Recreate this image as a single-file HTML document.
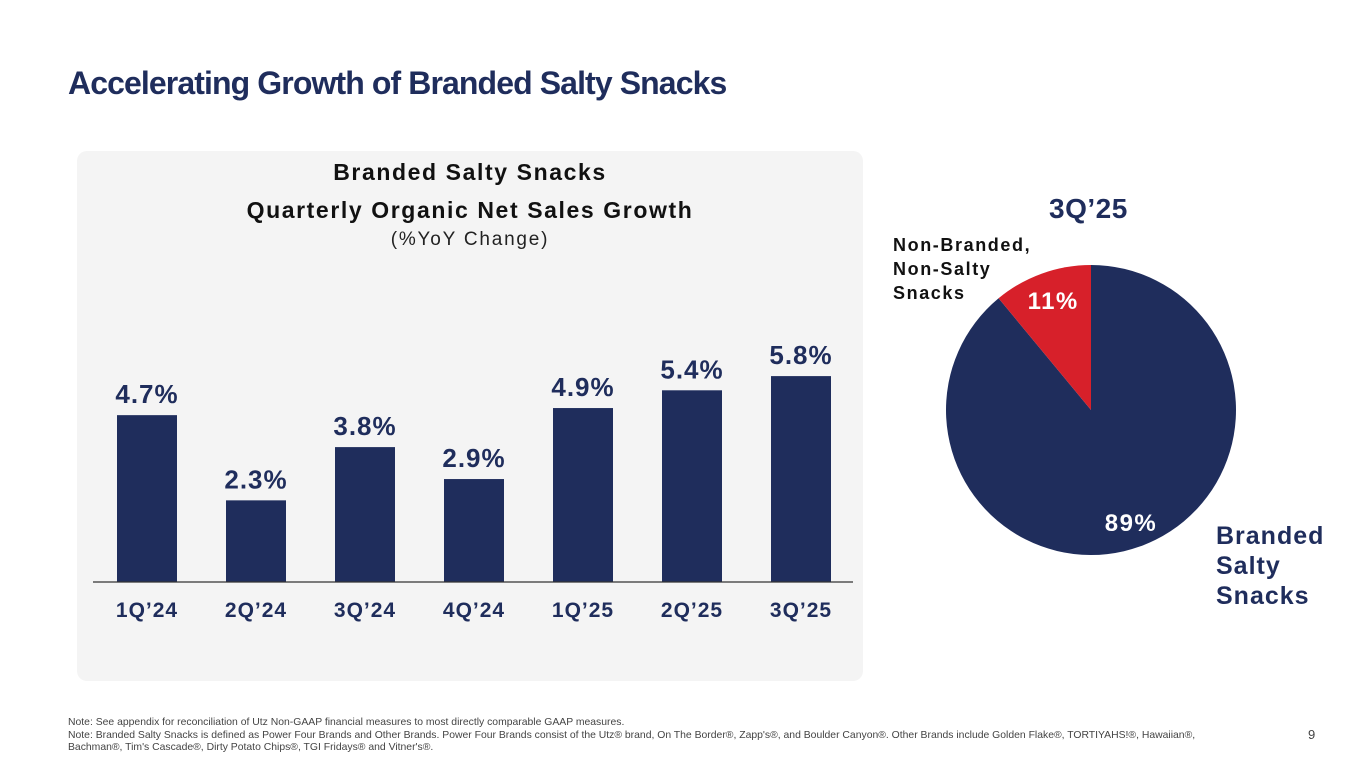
<!DOCTYPE html>
<html><head><meta charset="utf-8"><style>
body{margin:0;width:1365px;height:768px;background:#fff;font-family:"Liberation Sans",sans-serif;position:relative;overflow:hidden}
.t{position:absolute;margin:0}
</style></head><body>
<h1 class="t" style="left:68px;top:65px;font-size:32px;font-weight:bold;color:#1f2d5c;letter-spacing:-0.9px">Accelerating Growth of Branded Salty Snacks</h1>
<div style="position:absolute;left:77px;top:151px;width:786px;height:530px;background:#f4f4f4;border-radius:10px"></div>
<div class="t" style="left:77px;width:786px;top:153px;text-align:center;font-size:23px;font-weight:bold;color:#111;line-height:38px;letter-spacing:1.6px">Branded Salty Snacks<br>Quarterly Organic Net Sales Growth</div>
<div class="t" style="left:77px;width:786px;top:229px;text-align:center;font-size:19px;color:#222;letter-spacing:1.8px">(%YoY Change)</div>
<svg id="chart" style="position:absolute;left:0;top:0" width="1365" height="768"></svg>
<div class="t" style="left:68px;top:717px;font-size:10.4px;color:#444;line-height:12.5px">Note: See appendix for reconciliation of Utz Non-GAAP financial measures to most directly comparable GAAP measures.<br>Note: Branded Salty Snacks is defined as Power Four Brands and Other Brands. Power Four Brands consist of the Utz® brand, On The Border®, Zapp's®, and Boulder Canyon®. Other Brands include Golden Flake®, TORTIYAHS!®, Hawaiian®,<br>Bachman®, Tim's Cascade®, Dirty Potato Chips®, TGI Fridays® and Vitner's®.</div>
<div class="t" style="left:1308px;top:727px;font-size:13px;color:#444">9</div>
<script>
const categories=["1Q’24","2Q’24","3Q’24","4Q’24","1Q’25","2Q’25","3Q’25"];
const values=[4.7,2.3,3.8,2.9,4.9,5.4,5.8];
const labels=["4.7%","2.3%","3.8%","2.9%","4.9%","5.4%","5.8%"];
const pieValues=[89,11];
const pieLabels=["89%","11%"];
const NS="http://www.w3.org/2000/svg";
const svg=document.getElementById('chart');
function mk(t,a,txt){const e=document.createElementNS(NS,t);for(const k in a)e.setAttribute(k,a[k]);if(txt!=null)e.textContent=txt;svg.appendChild(e);return e;}
const base=582,scale=35.5,x0=147,step=109,bw=60;
const y=v=>base-v*scale, x=i=>x0+i*step;
categories.forEach((c,i)=>{
 const r=mk('rect',{x:x(i)-bw/2,y:y(values[i]),width:bw,height:base-y(values[i]),fill:'#1f2d5c'});
 
 
 const l=mk('text',{x:x(i),y:y(values[i])-12,'text-anchor':'middle','font-size':26,'font-weight':'bold',fill:'#1f2d5c','font-family':'Liberation Sans','letter-spacing':1},labels[i]);
 
 
 const t=mk('text',{x:x(i),y:617,'text-anchor':'middle','font-size':21,'font-weight':'bold',fill:'#1f2d5c','font-family':'Liberation Sans','letter-spacing':1},c);
 
 
});
const ax=mk('line',{x1:93,x2:853,y1:base,y2:base,stroke:'#333','stroke-width':1.2});


const cx=1091,cy=410,R=145;const total=pieValues.reduce((a,b)=>a+b,0);
const colors=['#1f2d5c','#d7202a'];
let a0=0;
pieValues.forEach((v,i)=>{
 const a1=a0+v/total*2*Math.PI;
 const p=(a)=>[cx+R*Math.sin(a),cy-R*Math.cos(a)];
 const [sx,sy]=p(a0),[ex,ey]=p(a1);
 const s=mk('path',{d:`M${cx},${cy}L${sx},${sy}A${R},${R} 0 ${a1-a0>Math.PI?1:0} 1 ${ex},${ey}Z`,fill:colors[i]});
 
 
 const mid=(a0+a1)/2, lr=R*0.77;
 let lx=cx+lr*Math.sin(mid), ly=cy-lr*Math.cos(mid)+4;
 if(i==0){lx=1131;ly=531;}
 const l=mk('text',{x:lx,y:ly,'text-anchor':'middle','font-size':24,'font-weight':'bold',fill:'#fff','font-family':'Liberation Sans','letter-spacing':1.5},pieLabels[i]);
 
 
 a0=a1;
});
</script>
<div class="t" style="left:1049px;top:193px;font-size:28px;font-weight:bold;color:#1f2d5c;letter-spacing:0.5px">3Q’25</div>
<div class="t" style="left:893px;top:233px;font-size:18px;font-weight:bold;color:#111;line-height:24px;letter-spacing:1.6px">Non-Branded,<br>Non-Salty<br>Snacks</div>
<div class="t" style="left:1216px;top:521px;font-size:25px;font-weight:bold;color:#1f2d5c;line-height:30px;letter-spacing:1px">Branded<br>Salty<br>Snacks</div>
</body></html>
